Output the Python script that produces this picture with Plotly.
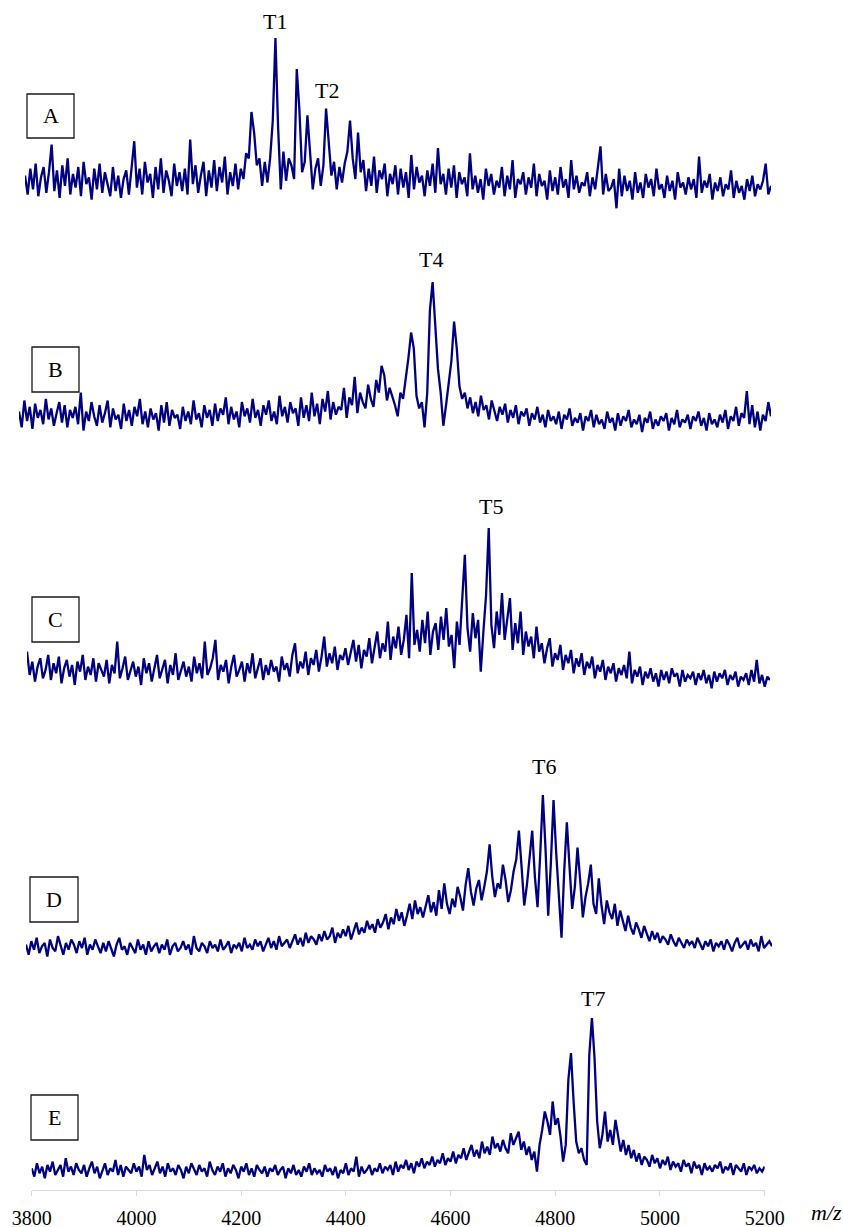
import plotly.graph_objects as go

# ---------------- data ----------------
MZ_START = 3800
MZ_STEP = 5
N_POINTS = 281
mz = [MZ_START + MZ_STEP * i for i in range(N_POINTS)]

panel_names = ["A", "B", "C", "D", "E"]

spec_A = [
    20, 9, 24, 12, 27, 8, 19, 25, 10, 22,
    38, 11, 23, 7, 26, 14, 30, 9, 21, 13,
    25, 8, 28, 15, 19, 6, 24, 12, 27, 10,
    22, 14, 8, 25, 11, 20, 7, 18, 23, 9,
    26, 40, 13, 24, 9, 28, 16, 21, 7, 25,
    12, 30, 10, 23, 17, 8, 27, 14, 22, 11,
    24, 9, 41, 15, 26, 10, 20, 28, 8, 23,
    13, 29, 11, 25, 16, 31, 9, 22, 14, 27,
    12, 24, 18, 33, 30, 57, 45, 26, 30, 14,
    28, 16, 30, 52, 100, 48, 12, 34, 17, 30,
    26, 18, 82, 58, 22, 28, 55, 35, 12, 24,
    30, 14, 26, 59, 38, 20, 28, 12, 25, 16,
    27, 34, 52, 30, 18, 45, 22, 29, 11, 24,
    14, 31, 10, 23, 18, 27, 8, 21, 15, 26,
    9, 24, 13, 22, 7, 32, 12, 25, 16, 20,
    8, 23, 14, 27, 10, 36, 15, 21, 9, 24,
    13, 26, 7, 22, 15, 19, 8, 33, 12, 20,
    10, 18, 6, 24, 14, 21, 9, 17, 13, 25,
    8, 20, 12, 29, 7, 18, 15, 22, 9, 19,
    13, 27, 8, 21, 14, 17, 6, 23, 11, 19,
    9, 25, 13, 18, 7, 29, 12, 20, 10, 16,
    14, 22, 8, 19, 12, 26, 37, 9, 21, 11,
    13, 18, 1, 24, 8, 20, 11, 17, 6, 22,
    10, 16, 7, 21, 13, 18, 8, 24, 12, 15,
    7, 20, 11, 17, 6, 22, 13, 16, 9, 19,
    12, 18, 7, 31, 10, 17, 13, 21, 6, 16,
    11, 19, 8, 15, 12, 23, 7, 17, 10, 14,
    6, 18, 11, 20, 8, 15, 12, 17, 27, 9,
    14,
]

spec_B = [
    18, 8, 25, 12, 21, 7, 23, 14, 19, 10,
    26, 13, 20, 9, 17, 24, 11, 22, 8, 19,
    14, 21, 10, 30, 6, 18, 12, 24, 15, 9,
    22, 11, 17, 25, 8, 20, 13, 16, 7, 23,
    12, 19, 9, 21, 15, 26, 10, 18, 8, 20,
    13, 17, 6, 22, 11, 24, 9, 19, 14, 16,
    7, 21, 12, 18, 10, 25, 13, 17, 8, 22,
    14, 19, 9, 23, 12, 20, 16, 27, 10, 21,
    13, 18, 8, 24, 15, 20, 11, 26, 14, 19,
    9, 22, 16, 25, 12, 18, 10, 28, 15, 21,
    11, 24, 17, 20, 9, 27, 14, 22, 12, 30,
    15, 23, 10, 26, 18, 31, 13, 24, 16, 21,
    19, 33, 14, 27, 22, 40, 17, 30, 24, 20,
    35, 26, 21, 38, 30, 47, 41, 25, 33, 28,
    22, 15, 30, 26, 38, 52, 68, 58, 28, 20,
    24, 8, 30, 82, 100, 72, 45, 30, 9, 22,
    35, 50, 75, 58, 34, 26, 30, 20, 27, 17,
    24, 15, 28, 19, 22, 13, 25, 18, 12, 21,
    16, 23, 11, 19, 14, 22, 10, 18, 15, 20,
    9, 17, 13, 21, 11, 16, 8, 19, 12, 15,
    10, 18, 7, 16, 13, 20, 9, 14, 11, 17,
    6, 15, 12, 19, 8, 16, 10, 13, 7, 18,
    11, 14, 6, 17, 9, 15, 12, 19, 8, 13,
    10, 16, 5, 14, 11, 18, 7, 13, 9, 15,
    12, 17, 6, 14, 10, 19, 8, 13, 11, 16,
    7, 15, 12, 18, 9, 14, 6, 17, 10, 13,
    8, 16, 11, 19, 7, 15, 12, 21, 9, 17,
    14, 31, 10, 22, 8, 18, 6, 16, 12, 24,
    15,
]

spec_C = [
    26, 12, 20, 8, 17, 22, 10, 15, 24, 9,
    19, 13, 23, 7, 16, 21, 11, 18, 6, 20,
    14, 24, 9, 17, 12, 22, 8, 19, 15, 11,
    21, 7, 18, 13, 32, 10, 16, 23, 9, 14,
    20, 11, 17, 6, 22, 13, 19, 8, 15, 24,
    10, 16, 21, 7, 18, 12, 25, 9, 14, 20,
    11, 17, 8, 23, 13, 19, 10, 32, 12, 16,
    22, 33, 9, 18, 14, 21, 7, 17, 24, 11,
    15, 20, 8, 19, 13, 25, 10, 16, 22, 9,
    18, 12, 21, 14, 17, 8, 23, 15, 19, 11,
    24, 31, 13, 20, 16, 26, 12, 22, 18, 27,
    14, 23, 35, 17, 25, 19, 29, 15, 24, 21,
    28, 18, 26, 33, 20, 30, 16, 27, 23, 34,
    19, 29, 38, 22, 31, 26, 44, 21, 35, 28,
    41, 24, 33, 48, 22, 73, 30, 39, 26, 45,
    31, 50, 24, 38, 43, 27, 47, 33, 52, 29,
    36, 16, 44, 30, 55, 84, 40, 26, 49, 34,
    45, 14, 38, 60, 100, 42, 28, 50, 36, 61,
    33, 46, 58, 27, 43, 31, 50, 24, 38, 29,
    35, 22, 41, 26, 31, 19, 28, 34, 17, 25,
    21, 30, 15, 24, 19, 27, 13, 22, 17, 25,
    12, 20, 16, 23, 10, 18, 14, 21, 9, 17,
    13, 19, 8, 16, 12, 18, 10, 26, 7, 15,
    11, 17, 6, 14, 10, 16, 8, 13, 5, 15,
    9, 14, 7, 16, 11, 13, 5, 15, 8, 12,
    10, 14, 6, 13, 9, 15, 7, 12, 4, 14,
    8, 13, 10, 15, 6, 12, 9, 14, 5, 11,
    9, 13, 6, 15, 8, 21, 7, 12, 5, 11,
    9,
]

spec_D = [
    12, 6, 14, 9, 16, 7, 11, 13, 5, 15,
    10, 8, 17, 11, 6, 13, 9, 15, 12, 7,
    14, 10, 16, 6, 12, 9, 15, 11, 7, 13,
    8, 14, 10, 5, 12, 16, 9, 11, 6, 13,
    10, 7, 15, 9, 12, 6, 14, 8, 11, 13,
    7, 12, 9, 15, 6, 11, 13, 8, 10, 14,
    9, 12, 6, 17, 10, 8, 13, 11, 7, 14,
    10, 12, 8, 15, 9, 11, 14, 7, 12, 10,
    13, 8, 16, 10, 12, 9, 15, 11, 14, 8,
    12, 16, 10, 14, 9, 17, 11, 13, 15, 10,
    14, 18, 12, 16, 11, 19, 13, 17, 15, 12,
    18, 14, 20, 15, 17, 22, 13, 19, 16, 21,
    17, 23, 15, 20, 25, 18, 22, 19, 26, 21,
    24, 19, 27, 22, 25, 30, 21, 28, 24, 33,
    26, 31, 23, 29, 36, 27, 38, 30, 34, 28,
    35, 41, 31, 37, 29, 44, 33, 48, 36, 30,
    39, 34, 46, 40, 32, 47, 57, 43, 35, 45,
    50, 38, 46, 55, 71, 52, 40, 48, 45, 59,
    50, 37, 44, 55, 62, 79, 58, 35, 47, 63,
    79, 52, 34, 65, 100, 68, 29, 60, 97, 66,
    38, 16, 55, 84, 58, 33, 46, 69, 50, 28,
    40, 48, 59, 36, 30, 51, 35, 24, 38, 31,
    27, 36, 23, 32, 26, 20, 29, 22, 18, 25,
    21, 16, 23, 18, 14, 20, 15, 19, 13, 17,
    15, 12, 18, 14, 11, 16, 13, 10, 15, 12,
    14, 10, 16, 12, 9, 14, 11, 15, 8, 13,
    11, 14, 9, 15, 12, 8, 13, 16, 10, 12,
    14, 9, 15, 11, 13, 8, 17, 10, 12, 14,
    11,
]

spec_E = [
    10, 5, 13, 7, 11, 4, 12, 8, 14, 6,
    9, 12, 5, 16, 8, 11, 6, 13, 9, 7,
    12, 5, 10, 14, 7, 11, 4, 9, 13, 6,
    10, 8, 15, 6, 12, 5, 11, 9, 7, 13,
    8, 11, 5, 18, 9, 12, 6, 10, 14, 7,
    11, 5, 13, 8, 10, 6, 12, 9, 4, 11,
    7, 13, 9, 6, 12, 8, 10, 5, 14, 9,
    6, 11, 8, 13, 5, 10, 7, 12, 9, 4,
    11, 8, 13, 6, 10, 5, 12, 9, 7, 11,
    5, 10, 8, 12, 6, 9, 11, 4, 10, 7,
    12, 6, 9, 5, 11, 8, 13, 6, 10, 7,
    9, 5, 12, 8, 10, 6, 11, 4, 9, 7,
    13, 6, 10, 8, 17, 5, 11, 7, 9, 12,
    6, 10, 8, 13, 7, 11, 9, 12, 6, 14,
    8, 12, 10, 15, 9, 13, 7, 14, 11, 16,
    10, 14, 12, 17, 11, 15, 13, 19, 12, 16,
    14, 20, 13, 18, 16, 22, 15, 19, 24, 17,
    21, 16, 26, 19, 23, 18, 29, 22, 25, 20,
    27, 22, 19, 31, 24, 28, 32, 21, 26, 18,
    23, 15, 20, 8, 24, 33, 44, 38, 30, 50,
    36, 40, 29, 14, 24, 63, 79, 50, 26, 19,
    22, 15, 12, 78, 100, 76, 38, 22, 30, 44,
    26, 33, 24, 39, 28, 20, 27, 18, 24, 16,
    21, 14, 19, 12, 17, 15, 11, 18, 13, 16,
    10, 15, 12, 17, 9, 14, 11, 13, 8, 15,
    11, 13, 7, 14, 10, 12, 6, 13, 9, 11,
    8, 12, 10, 14, 7, 11, 9, 13, 6, 12,
    10, 8, 13, 6, 11, 9, 12, 7, 10, 8,
    11,
]

spectra = [spec_A, spec_B, spec_C, spec_D, spec_E]

peak_labels = ["T1", "T2", "T4", "T5", "T6", "T7"]

tick_values = [3800, 4000, 4200, 4400, 4600, 4800, 5000, 5200]
tick_labels = ["3800", "4000", "4200", "4400", "4600", "4800", "5000", "5200"]
x_title = "m/z"

# ---------------- layout geometry (pixels) ----------------
W, H = 843, 1227
LINE_COLOR = "#000080"
FONT = "Liberation Serif, Times New Roman, serif"

def fx(px):
    return px / W

def fy(py):
    return 1 - py / H

# per panel: x pixel extent, pixel of value 0, pixel of value 100
panel_x = [(25, 771), (19, 771), (27, 770), (26, 772), (31.7, 764.7)]
panel_y = [(210, 38), (440, 282), (695, 528), (965, 795), (1185, 1018)]
AXIS_PX = 1190

fig = go.Figure()
layout = {}
for k, (vals, (x0, x1), (b, t)) in enumerate(zip(spectra, panel_x, panel_y)):
    n = k + 1
    sfx = "" if n == 1 else str(n)
    scale = (b - t) / 100.0
    if n == 5:
        bot_px = AXIS_PX
        lo = -(AXIS_PX - b) / scale
    else:
        bot_px = b + 6 * scale
        lo = -6
    top_px = t - 6 * scale
    hi = 106
    fig.add_trace(go.Scatter(
        x=mz, y=vals, mode="lines",
        line=dict(color=LINE_COLOR, width=2.3),
        xaxis="x" + sfx, yaxis="y" + sfx,
        showlegend=False, hoverinfo="skip",
    ))
    layout["xaxis" + sfx] = dict(
        domain=[fx(x0), fx(x1)], range=[MZ_START, 5200],
        anchor="y" + sfx, visible=False, fixedrange=True, automargin=False,
    )
    layout["yaxis" + sfx] = dict(
        domain=[fy(bot_px), fy(top_px)], range=[lo, hi],
        anchor="x" + sfx, visible=False, fixedrange=True, automargin=False,
    )

layout["xaxis5"].update(
    visible=True, showline=True, linecolor="#d9d9d9", linewidth=1,
    ticks="outside", tickcolor="#d9d9d9", ticklen=5, tickwidth=1,
    showgrid=False, zeroline=False,
    tickmode="array", tickvals=tick_values, ticktext=tick_labels,
    tickfont=dict(family=FONT, size=20, color="#000000"),
    ticklabelstandoff=5,
)

fig.update_layout(
    width=W, height=H,
    margin=dict(l=0, r=0, t=0, b=0, autoexpand=False),
    paper_bgcolor="white", plot_bgcolor="rgba(0,0,0,0)",
    **layout,
)

# panel letter boxes
box_px = [(27, 94, 74, 138), (32, 347, 79, 392), (32, 597, 79, 642),
          (30, 877, 78, 922), (31, 1095, 78, 1140)]
for name, (bx0, by0, bx1, by1) in zip(panel_names, box_px):
    fig.add_shape(type="rect", xref="paper", yref="paper",
                  x0=fx(bx0), x1=fx(bx1), y0=fy(by1), y1=fy(by0),
                  line=dict(color="#1a1a1a", width=1.3), fillcolor="white",
                  layer="above")
    fig.add_annotation(x=fx((bx0 + bx1) / 2), y=fy((by0 + by1) / 2),
                       xref="paper", yref="paper", text=name, showarrow=False,
                       xanchor="center", yanchor="middle",
                       font=dict(family=FONT, size=22, color="#000000"))

# peak labels
peak_px = [(275, 21), (327, 90), (431, 259), (491, 506), (544, 766), (593, 998)]
for lab, (lx, ly) in zip(peak_labels, peak_px):
    fig.add_annotation(x=fx(lx), y=fy(ly), xref="paper", yref="paper",
                       text=lab, showarrow=False, xanchor="center", yanchor="middle",
                       font=dict(family=FONT, size=22, color="#000000"))

# axis title m/z
fig.add_annotation(x=fx(826), y=fy(1212), xref="paper", yref="paper",
                   text="<i>" + x_title + "</i>", showarrow=False,
                   xanchor="center", yanchor="middle",
                   font=dict(family=FONT, size=22, color="#000000"))

fig.write_html(
    "out.html",
    config={"displayModeBar": False},
    post_script="document.body.style.margin='0px';document.body.style.padding='0px';",
)
